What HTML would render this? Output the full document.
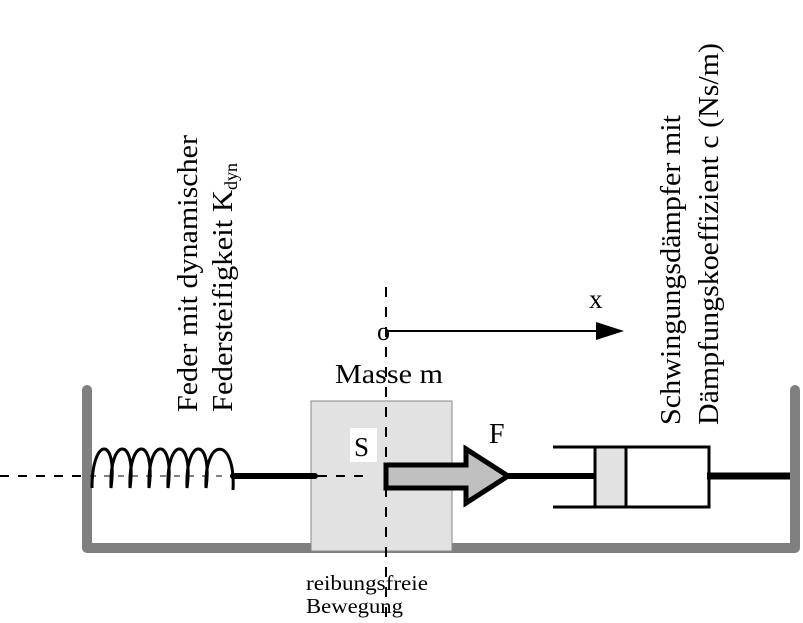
<!DOCTYPE html>
<html><head><meta charset="utf-8"><style>html,body{margin:0;padding:0;background:#fff}svg{display:block}text{font-family:"Liberation Serif",serif}</style></head>
<body>
<svg width="803" height="623" viewBox="0 0 803 623" xmlns="http://www.w3.org/2000/svg">
<rect width="803" height="623" fill="#fff"/>
<path d="M87,390 V548 H795 V390" fill="none" stroke="#808080" stroke-width="10" stroke-linecap="round" stroke-linejoin="round"/>
<line x1="0" y1="476" x2="87" y2="476" stroke="#000" stroke-width="2" stroke-dasharray="9,9"/>
<rect x="311" y="401" width="141" height="150" fill="#e2e2e2" stroke="#888" stroke-width="1"/>
<line x1="318" y1="476" x2="372" y2="476" stroke="#000" stroke-width="2" stroke-dasharray="9,9"/>
<path d="M92,488 C92,436 118,436 111,488 C109,436 137,436 130,488 C128,436 156,436 149,488 C147,436 175,436 168,488 C166,436 194,436 187,488 C185,436 213,436 206,488 C204,436 236,436 233,490" fill="none" stroke="#000" stroke-width="3"/>
<line x1="90" y1="476" x2="233" y2="476" stroke="#000" stroke-width="1" stroke-dasharray="6,8"/>
<line x1="233" y1="476" x2="315" y2="476" stroke="#000" stroke-width="6" stroke-linecap="round"/>
<line x1="386" y1="287" x2="386" y2="618" stroke="#000" stroke-width="2" stroke-dasharray="10,10"/>
<rect x="350" y="428" width="27" height="34" fill="#fff"/>
<text x="354" y="456" font-size="27">S</text>
<path d="M386,465 H466 V449 L508,476 L466,503 V488 H386 Z" fill="#c0c0c0" stroke="#000" stroke-width="5" stroke-linejoin="miter"/>
<line x1="508" y1="476" x2="596" y2="476" stroke="#000" stroke-width="6"/>
<text x="489" y="443" font-size="28">F</text>
<path d="M553,447 H709 V507 H553" fill="none" stroke="#000" stroke-width="3"/>
<rect x="595" y="447" width="31" height="60" fill="#e2e2e2" stroke="#000" stroke-width="3"/>
<line x1="707" y1="476" x2="790" y2="476" stroke="#000" stroke-width="7"/>
<line x1="388" y1="331" x2="598" y2="331" stroke="#000" stroke-width="2"/>
<path d="M596,322 L624,331 L596,340 Z" fill="#000"/>
<text x="377" y="340" font-size="26">o</text>
<text x="589" y="308" font-size="27">x</text>
<text x="335" y="383" font-size="27" textLength="108" lengthAdjust="spacingAndGlyphs">Masse m</text>
<text transform="translate(197,412) rotate(-90)" font-size="29" textLength="277" lengthAdjust="spacingAndGlyphs">Feder mit dynamischer</text>
<text transform="translate(232,412) rotate(-90)" font-size="29"><tspan textLength="222" lengthAdjust="spacingAndGlyphs">Federsteifigkeit K</tspan><tspan font-size="18" dy="5">dyn</tspan></text>
<text transform="translate(680,425) rotate(-90)" font-size="29" textLength="310" lengthAdjust="spacingAndGlyphs">Schwingungsdämpfer mit</text>
<text transform="translate(718,425) rotate(-90)" font-size="29" textLength="382" lengthAdjust="spacingAndGlyphs">Dämpfungskoeffizient c (Ns/m)</text>
<text x="306" y="590" font-size="21" textLength="122" lengthAdjust="spacingAndGlyphs">reibungsfreie</text>
<text x="306" y="613" font-size="21" textLength="97" lengthAdjust="spacingAndGlyphs">Bewegung</text>
</svg>
</body></html>
